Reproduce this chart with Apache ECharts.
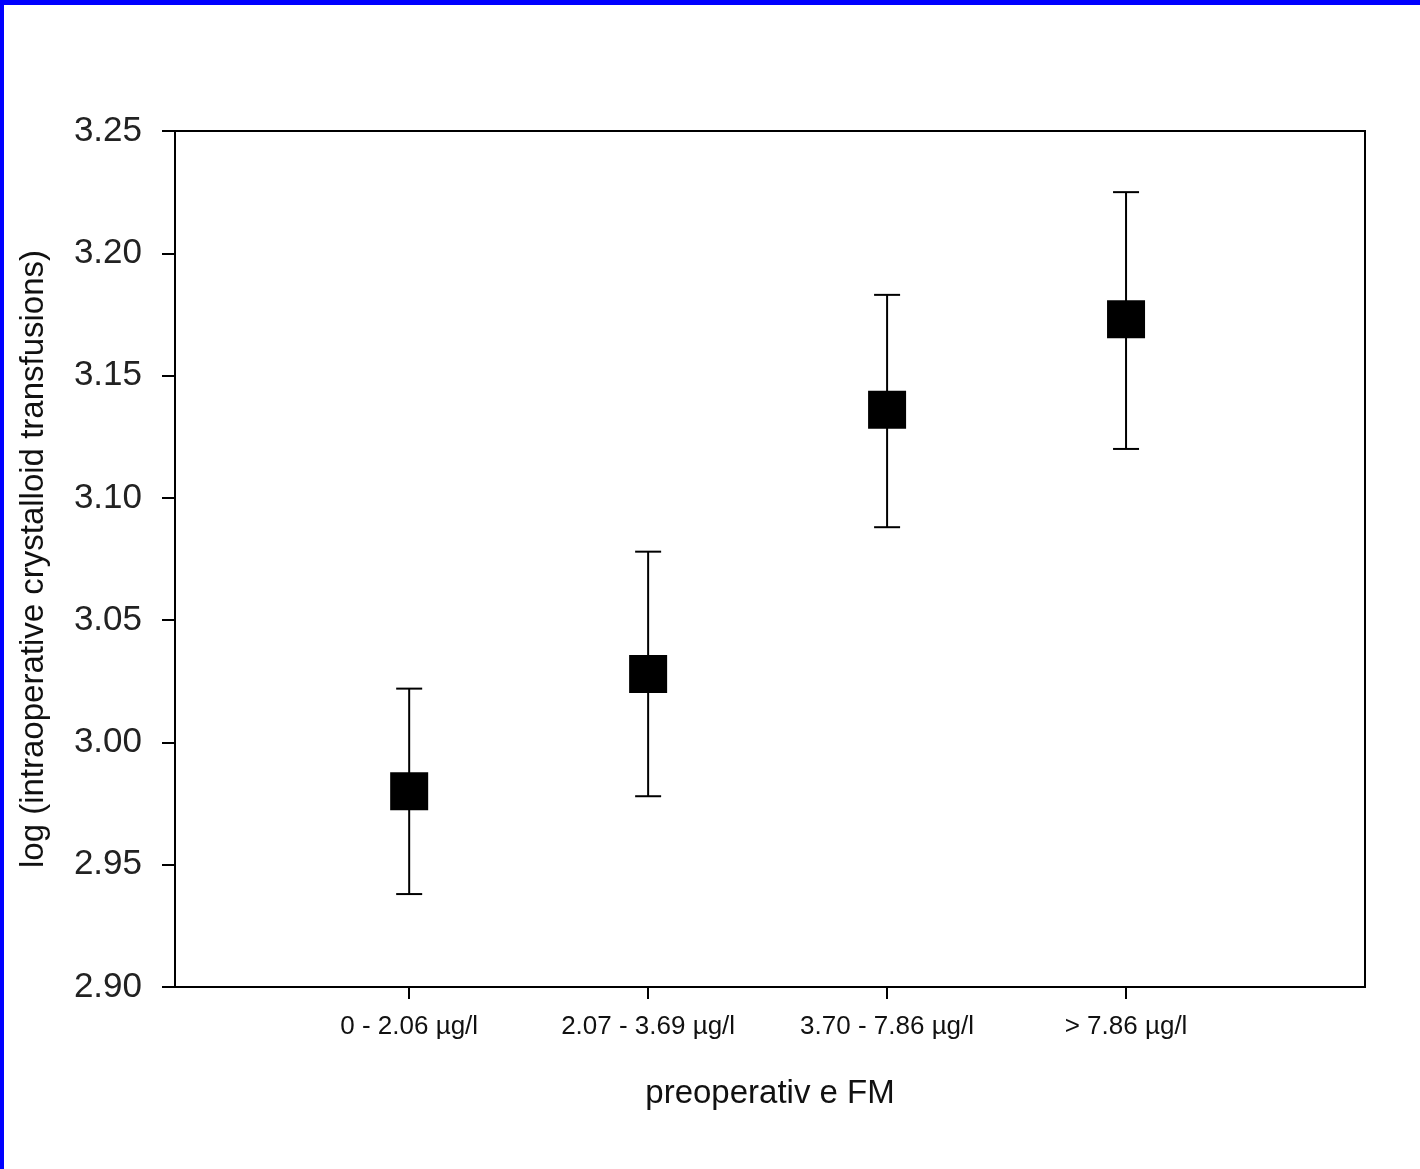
<!DOCTYPE html>
<html>
<head>
<meta charset="utf-8">
<script src="https://cdn.jsdelivr.net/npm/echarts@6/dist/echarts.min.js"></script>
<style>
html,body{margin:0;padding:0;background:#fff;}
#chart{position:absolute;left:0;top:0;width:1420px;height:1169px;}
#frame{position:absolute;left:0;top:0;width:1420px;height:1169px;box-sizing:border-box;border-top:5px solid #0000ff;border-left:4px solid #0000ff;pointer-events:none;}
</style>
</head>
<body>
<div id="chart"></div>
<div id="frame"></div>
<script>
var categories = ['0 - 2.06 \u00b5g/l', '2.07 - 3.69 \u00b5g/l', '3.70 - 7.86 \u00b5g/l', '> 7.86 \u00b5g/l'];
var means = [2.980, 3.028, 3.136, 3.173];
var upper = [3.022, 3.078, 3.183, 3.225];
var lower = [2.938, 2.978, 3.088, 3.120];
var yTicks = [2.90, 2.95, 3.00, 3.05, 3.10, 3.15, 3.20, 3.25];

var positions = categories.map(function (c, i) { return i + 1; });
var font = '"Liberation Sans", Arial, sans-serif';

var chart = echarts.init(document.getElementById('chart'));
chart.setOption({
  animation: false,
  backgroundColor: '#fff',
  grid: {left: 175, top: 131, width: 1190, height: 856, show: true, borderColor: '#000', borderWidth: 2, backgroundColor: 'transparent'},
  xAxis: {
    type: 'value', min: 0.02, max: categories.length + 1,
    name: 'preoperativ e FM', nameLocation: 'middle', nameGap: 90,
    nameTextStyle: {fontFamily: font, fontSize: 33, color: '#111'},
    splitLine: {show: false},
    axisLine: {lineStyle: {color: '#000', width: 2}},
    axisTick: {show: true, length: 12, customValues: positions, lineStyle: {color: '#000', width: 2}},
    axisLabel: {
      customValues: positions, margin: 27,
      fontFamily: font, fontSize: 26, color: '#111',
      formatter: function (v) { return categories[Math.round(v) - 1] || ''; }
    }
  },
  yAxis: {
    type: 'value', min: yTicks[0], max: yTicks[yTicks.length - 1], interval: 0.05,
    name: 'log (intraoperative crystalloid transfusions)', nameLocation: 'middle', nameGap: 125, nameRotate: 90,
    nameTextStyle: {fontFamily: font, fontSize: 33, color: '#111'},
    splitLine: {show: false},
    axisLine: {lineStyle: {color: '#000', width: 2}},
    axisTick: {show: true, length: 13, lineStyle: {color: '#000', width: 2}},
    axisLabel: {
      margin: 33, fontFamily: font, fontSize: 35, color: '#222',
      formatter: function (v) { return v.toFixed(2); }
    }
  },
  series: [
    {
      type: 'custom',
      data: positions.map(function (p, i) { return [p, lower[i], upper[i]]; }),
      renderItem: function (params, api) {
        var lo = api.coord([api.value(0), api.value(1)]);
        var hi = api.coord([api.value(0), api.value(2)]);
        var hw = 13;
        var st = {stroke: '#000', lineWidth: 2};
        return {
          type: 'group',
          children: [
            {type: 'line', shape: {x1: lo[0], y1: lo[1], x2: hi[0], y2: hi[1]}, style: st},
            {type: 'line', shape: {x1: lo[0] - hw, y1: lo[1], x2: lo[0] + hw, y2: lo[1]}, style: st},
            {type: 'line', shape: {x1: hi[0] - hw, y1: hi[1], x2: hi[0] + hw, y2: hi[1]}, style: st}
          ]
        };
      },
      z: 2
    },
    {
      type: 'scatter',
      data: positions.map(function (p, i) { return [p, means[i]]; }),
      symbol: 'rect', symbolSize: 38,
      itemStyle: {color: '#000', opacity: 1},
      z: 3
    }
  ]
});
</script>
</body>
</html>
